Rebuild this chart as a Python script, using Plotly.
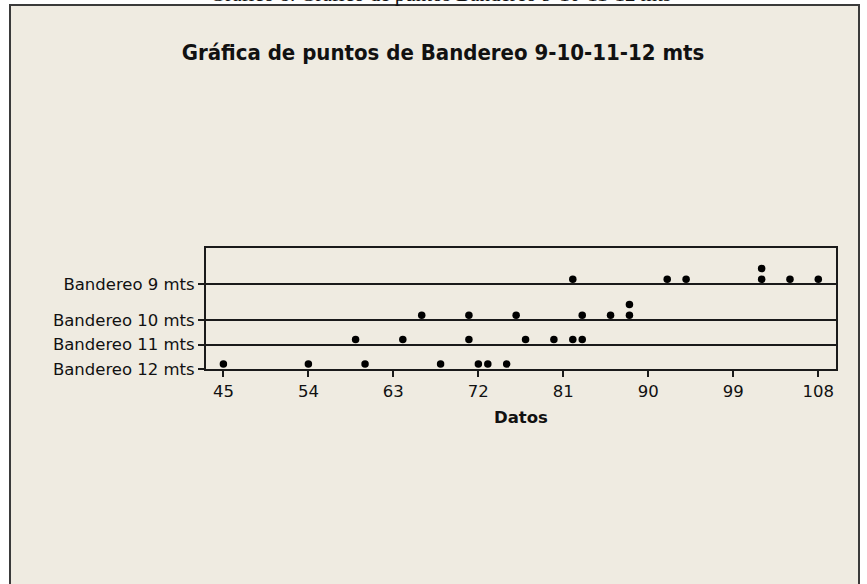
import plotly.graph_objects as go

# ---------------- data ----------------
categories = ["Bandereo 9 mts", "Bandereo 10 mts", "Bandereo 11 mts", "Bandereo 12 mts"]
bandereo_9 = [82, 92, 94, 102, 102, 105, 108]
bandereo_10 = [66, 71, 76, 83, 86, 88, 88]
bandereo_11 = [59, 64, 71, 77, 80, 82, 83]
bandereo_12 = [45, 54, 60, 68, 72, 73, 75]
x_ticks = [45, 54, 63, 72, 81, 90, 99, 108]

title_text = "Gráfica de puntos de Bandereo 9-10-11-12 mts"
x_title = "Datos"
caption_text = "Gráfico 8. Gráfico de puntos Bandereo 9-10-11-12 mts"

series = [bandereo_9, bandereo_10, bandereo_11, bandereo_12]

# ---------------- layout geometry (pixels) ----------------
W, H = 867, 584
L, R, T, B = 206, 836, 248, 369          # plot area edges in px
ROW_PAD, ROW_STEP = 12.8, 11.6           # row height = pad + step * max stack
DOT_BASE, DOT_STEP = 5.0, 10.7           # dot centre above baseline

def stacks(vals):
    seen = {}
    lv = []
    for v in vals:
        k = seen.get(v, 0)
        lv.append(k)
        seen[v] = k + 1
    return lv, max(seen.values())

baselines = {}
levels = {}
cur = 0.0
for i in list(range(len(categories)))[::-1]:
    lv, m = stacks(series[i])
    levels[i] = lv
    baselines[i] = cur
    cur += ROW_PAD + ROW_STEP * m
y_top = B - T

fig = go.Figure()
for i in range(len(categories)):
    ys = [baselines[i] + DOT_BASE + DOT_STEP * k for k in levels[i]]
    fig.add_trace(go.Scatter(
        x=series[i], y=ys, mode="markers",
        marker=dict(color="black", size=7.5, line=dict(width=0)),
        cliponaxis=False, showlegend=False, name=categories[i],
        hoverinfo="x+name",
    ))

font_reg = "DejaVu Sans, sans-serif"
font_cond = "DejaVu Sans Condensed, DejaVu Sans, sans-serif"
bg = "#EFEBE1"
ink = "#111111"

# outer beige frame
fig.add_shape(type="rect", xref="paper", yref="paper",
              x0=(10 - L) / (R - L), x1=(859 - L) / (R - L),
              y0=(B - 600) / (B - T), y1=(B - 5) / (B - T),
              fillcolor=bg, line=dict(color="#3a3a3a", width=2), layer="below")

x_min = 45 - (223.4 - L) / 9.443
x_max = 108 + (R - 818.3) / 9.443

fig.update_layout(
    width=W, height=H,
    margin=dict(l=L, r=W - R, t=T, b=H - B, pad=0),
    paper_bgcolor="white",
    plot_bgcolor="white",
    font=dict(family=font_reg, color=ink, size=16),
    title=dict(text="<b>" + title_text + "</b>", x=443 / W, xref="container",
               y=1 - 52 / H, yref="container", xanchor="center", yanchor="middle",
               font=dict(family=font_cond, size=22, color=ink)),
    xaxis=dict(range=[x_min, x_max], tickvals=x_ticks, ticktext=[str(t) for t in x_ticks],
               showgrid=False, zeroline=False, showline=True, linecolor="#1a1a1a",
               linewidth=2, mirror=True, ticks="outside", ticklen=6, tickwidth=1.5,
               tickcolor="#1a1a1a", tickfont=dict(family=font_reg, size=16.5), fixedrange=True),
    yaxis=dict(range=[0, y_top], tickvals=[baselines[i] for i in range(len(categories))],
               ticktext=categories, showgrid=True, gridcolor="#1a1a1a", gridwidth=1.6,
               zeroline=False, showline=True, linecolor="#1a1a1a", linewidth=2,
               mirror=True, ticks="outside", ticklen=6, tickwidth=1.5,
               tickcolor="#1a1a1a", tickfont=dict(family=font_reg, size=16.5), fixedrange=True),
    annotations=[
        dict(text="<b>" + x_title + "</b>", xref="paper", yref="paper",
             x=0.5, y=(B - 417) / (B - T), xanchor="center", yanchor="middle",
             showarrow=False, font=dict(family=font_reg, size=16.5, color=ink)),
        dict(text=caption_text, xref="paper", yref="paper",
             x=(440 - L) / (R - L), y=(B - 8.5) / (B - T), xanchor="center", yanchor="bottom",
             showarrow=False, font=dict(family="Liberation Serif, serif", size=21, color=ink)),
    ],
)

fig.write_html("out.html", config={"displayModeBar": False},
               post_script="document.body.style.margin='0';document.body.style.overflow='hidden';")
